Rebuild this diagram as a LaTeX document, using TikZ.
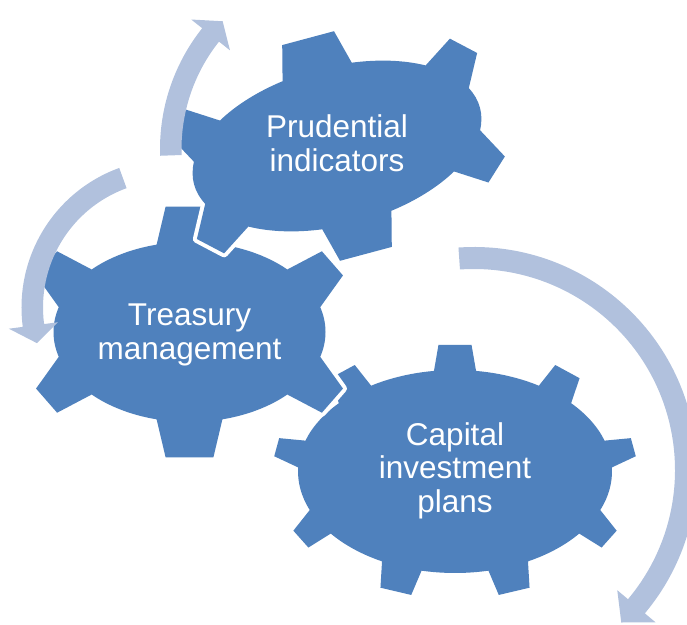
\documentclass[tikz,border=0pt]{standalone}
\usepackage{fontspec}
\newfontfamily\labelfont{Liberation Sans}
\definecolor{gearblue}{HTML}{4F81BD}
\definecolor{arrowblue}{HTML}{B1C1DD}
% gear outline on an ellipse: x radius, y radius, teeth, half base (deg), height, taper
\newcommand\gearpath[6]{%
  \pgfmathsetmacro\gbx{#1*cos(90-#4)}%
  \pgfmathsetmacro\gby{#2*sin(90-#4)}%
  \xdef\gearp{(\gbx,\gby)}%
  \foreach \k in {1,...,#3}{%
    \pgfmathsetmacro\gt{90+360*(\k-1)/#3}%
    \pgfmathsetmacro\ga{\gt-#4}%
    \pgfmathsetmacro\gb{\gt+#4}%
    \pgfmathsetmacro\gc{\gt+360/#3-#4}%
    \pgfmathsetmacro\gN{sqrt((#2/100*cos(\gt))^2+(#1/100*sin(\gt))^2)}%
    \pgfmathsetmacro\gnx{#2/100*cos(\gt)/\gN}%
    \pgfmathsetmacro\gny{#1/100*sin(\gt)/\gN}%
    \pgfmathsetmacro\gpx{#1*cos(\ga)+#5*\gnx-#6*\gny}%
    \pgfmathsetmacro\gpy{#2*sin(\ga)+#5*\gny+#6*\gnx}%
    \pgfmathsetmacro\gqx{#1*cos(\gb)+#5*\gnx+#6*\gny}%
    \pgfmathsetmacro\gqy{#2*sin(\gb)+#5*\gny-#6*\gnx}%
    \pgfmathsetmacro\grx{#1*cos(\gb)}%
    \pgfmathsetmacro\gry{#2*sin(\gb)}%
    \xdef\gearp{\gearp -- (\gpx,\gpy) -- (\gqx,\gqy) -- (\grx,\gry)
      arc[start angle=\gb,end angle=\gc,x radius=#1,y radius=#2]}%
  }%
}
% curved arrow: centre x, centre y, inner radius, outer radius, start, end, tip
\newcommand\bentarrow[7]{%
  \fill[arrowband,shift={(#1,#2)}] (#5:#4) arc[start angle=#5,end angle=#6,radius=#4]
    -- (#6:{#4+14}) -- (#7:{(#3+#4)/2}) -- (#6:{#3-14}) -- (#6:#3)
    arc[start angle=#6,end angle=#5,radius=#3] -- cycle;}
\begin{document}
\begin{tikzpicture}[x=1pt,y=1pt,
    gear/.style={fill=gearblue,preaction={draw=white,line width=8pt,line join=round}},
    arrowband/.style={fill=arrowblue},
    gearlabel/.style={text=white,align=center,font=\labelfont\fontsize{31.5}{33.5}\selectfont}]
    \clip(0,0)rectangle(687,624);
    \begin{scope}[shift={(455,152.5)}]
        \gearpath{157}{101.5}{9}{7.7}{26}{4.5}
        \path[gear]\gearp -- cycle;
    \end{scope}
    \begin{scope}[shift={(189.5,292)}]
        \gearpath{136}{90}{6}{14}{38}{9}
        \path[gear]\gearp -- cycle;
    \end{scope}
    \begin{scope}[shift={(337,478)},rotate=15]
        \gearpath{148}{79}{6}{14}{35}{9}
        \path[gear]\gearp -- cycle;
    \end{scope}
    \node[gearlabel](capital)at(455,153.5){Capital\\investment\\plans};
    \node[gearlabel](treasury)at(189.5,289){Treasury\\management};
    \node[gearlabel](prudential)at(337,481){Prudential\\indicators};
    \bentarrow{474}{154}{201}{223}{94}{-40}{-46}
    \bentarrow{170}{316.5}{127}{148.5}{110}{187.5}{195}
    \bentarrow{354}{475}{172.5}{194}{182}{141.5}{135.8}
\end{tikzpicture}
\end{document}
